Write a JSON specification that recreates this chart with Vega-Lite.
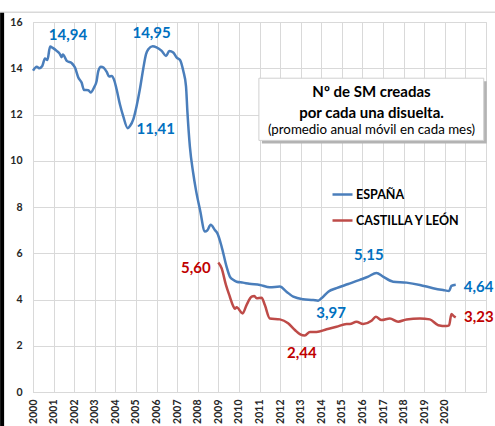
{
  "$schema": "https://vega.github.io/schema/vega-lite/v6.json",
  "width": 453,
  "height": 370,
  "autosize": {"type": "none"},
  "padding": {"left": 33, "top": 22, "right": 9, "bottom": 34},
  "background": "white",
  "config": {
    "font": "Lato",
    "view": {"stroke": "#d9d9d9", "strokeWidth": 1},
    "axis": {"gridColor": "#d9d9d9", "gridWidth": 1, "domainColor": "#d9d9d9", "ticks": false, "labelFontWeight": "bold", "labelColor": "#262626", "labelFontSize": 10.5, "title": null, "grid": true, "labelFlush": false, "labelOverlap": false},
    "axisX": {"tickCount": 22, "labelAngle": -90, "labelPadding": 7, "labelExpr": "datum.value <= 2020 ? format(datum.value, 'd') : ''"},
    "axisY": {"tickCount": 8, "labelPadding": 11}
  },
  "datasets": {
    "series": [
      {"series": "ESPAÑA", "t": 2000.0, "v": 13.9},
      {"series": "ESPAÑA", "t": 2000.18, "v": 14.07},
      {"series": "ESPAÑA", "t": 2000.3, "v": 14.0},
      {"series": "ESPAÑA", "t": 2000.45, "v": 14.1},
      {"series": "ESPAÑA", "t": 2000.58, "v": 14.42},
      {"series": "ESPAÑA", "t": 2000.7, "v": 14.36},
      {"series": "ESPAÑA", "t": 2000.83, "v": 14.94},
      {"series": "ESPAÑA", "t": 2000.96, "v": 14.88},
      {"series": "ESPAÑA", "t": 2001.15, "v": 14.75},
      {"series": "ESPAÑA", "t": 2001.3, "v": 14.62},
      {"series": "ESPAÑA", "t": 2001.39, "v": 14.48},
      {"series": "ESPAÑA", "t": 2001.45, "v": 14.6},
      {"series": "ESPAÑA", "t": 2001.64, "v": 14.32},
      {"series": "ESPAÑA", "t": 2001.88, "v": 14.22},
      {"series": "ESPAÑA", "t": 2002.04, "v": 14.03},
      {"series": "ESPAÑA", "t": 2002.2, "v": 13.6},
      {"series": "ESPAÑA", "t": 2002.36, "v": 13.38},
      {"series": "ESPAÑA", "t": 2002.48, "v": 13.06},
      {"series": "ESPAÑA", "t": 2002.69, "v": 13.05},
      {"series": "ESPAÑA", "t": 2002.8, "v": 12.95},
      {"series": "ESPAÑA", "t": 2002.96, "v": 13.16},
      {"series": "ESPAÑA", "t": 2003.09, "v": 13.45},
      {"series": "ESPAÑA", "t": 2003.17, "v": 13.88},
      {"series": "ESPAÑA", "t": 2003.3, "v": 14.07},
      {"series": "ESPAÑA", "t": 2003.42, "v": 14.03},
      {"series": "ESPAÑA", "t": 2003.58, "v": 13.84},
      {"series": "ESPAÑA", "t": 2003.7, "v": 13.64},
      {"series": "ESPAÑA", "t": 2003.82, "v": 13.67},
      {"series": "ESPAÑA", "t": 2003.93, "v": 13.52},
      {"series": "ESPAÑA", "t": 2004.06, "v": 13.09},
      {"series": "ESPAÑA", "t": 2004.22, "v": 12.44},
      {"series": "ESPAÑA", "t": 2004.38, "v": 11.93},
      {"series": "ESPAÑA", "t": 2004.6, "v": 11.41},
      {"series": "ESPAÑA", "t": 2004.71, "v": 11.5},
      {"series": "ESPAÑA", "t": 2004.87, "v": 11.79},
      {"series": "ESPAÑA", "t": 2005.03, "v": 12.36},
      {"series": "ESPAÑA", "t": 2005.19, "v": 13.09},
      {"series": "ESPAÑA", "t": 2005.35, "v": 13.96},
      {"series": "ESPAÑA", "t": 2005.49, "v": 14.61},
      {"series": "ESPAÑA", "t": 2005.6, "v": 14.82},
      {"series": "ESPAÑA", "t": 2005.81, "v": 14.95},
      {"series": "ESPAÑA", "t": 2006.0, "v": 14.9},
      {"series": "ESPAÑA", "t": 2006.25, "v": 14.75},
      {"series": "ESPAÑA", "t": 2006.46, "v": 14.53},
      {"series": "ESPAÑA", "t": 2006.62, "v": 14.75},
      {"series": "ESPAÑA", "t": 2006.81, "v": 14.68},
      {"series": "ESPAÑA", "t": 2006.98, "v": 14.46},
      {"series": "ESPAÑA", "t": 2007.14, "v": 14.36},
      {"series": "ESPAÑA", "t": 2007.3, "v": 13.88},
      {"series": "ESPAÑA", "t": 2007.43, "v": 13.23},
      {"series": "ESPAÑA", "t": 2007.5, "v": 12.1},
      {"series": "ESPAÑA", "t": 2007.62, "v": 10.6},
      {"series": "ESPAÑA", "t": 2007.78, "v": 9.47},
      {"series": "ESPAÑA", "t": 2007.91, "v": 8.75},
      {"series": "ESPAÑA", "t": 2008.11, "v": 7.88},
      {"series": "ESPAÑA", "t": 2008.35, "v": 6.94},
      {"series": "ESPAÑA", "t": 2008.46, "v": 6.98},
      {"series": "ESPAÑA", "t": 2008.63, "v": 7.23},
      {"series": "ESPAÑA", "t": 2008.83, "v": 7.01},
      {"series": "ESPAÑA", "t": 2008.95, "v": 6.87},
      {"series": "ESPAÑA", "t": 2009.16, "v": 6.29},
      {"series": "ESPAÑA", "t": 2009.4, "v": 5.42},
      {"series": "ESPAÑA", "t": 2009.56, "v": 4.99},
      {"series": "ESPAÑA", "t": 2009.72, "v": 4.85},
      {"series": "ESPAÑA", "t": 2009.89, "v": 4.77},
      {"series": "ESPAÑA", "t": 2010.2, "v": 4.73},
      {"series": "ESPAÑA", "t": 2010.5, "v": 4.68},
      {"series": "ESPAÑA", "t": 2011.02, "v": 4.63},
      {"series": "ESPAÑA", "t": 2011.5, "v": 4.53},
      {"series": "ESPAÑA", "t": 2011.99, "v": 4.56},
      {"series": "ESPAÑA", "t": 2012.31, "v": 4.34},
      {"series": "ESPAÑA", "t": 2012.64, "v": 4.12},
      {"series": "ESPAÑA", "t": 2013.12, "v": 4.01},
      {"series": "ESPAÑA", "t": 2013.61, "v": 3.98},
      {"series": "ESPAÑA", "t": 2013.85, "v": 3.95},
      {"series": "ESPAÑA", "t": 2014.01, "v": 4.05},
      {"series": "ESPAÑA", "t": 2014.34, "v": 4.34},
      {"series": "ESPAÑA", "t": 2014.74, "v": 4.49},
      {"series": "ESPAÑA", "t": 2015.31, "v": 4.67},
      {"series": "ESPAÑA", "t": 2015.87, "v": 4.85},
      {"series": "ESPAÑA", "t": 2016.28, "v": 4.99},
      {"series": "ESPAÑA", "t": 2016.68, "v": 5.15},
      {"series": "ESPAÑA", "t": 2017.0, "v": 4.99},
      {"series": "ESPAÑA", "t": 2017.49, "v": 4.77},
      {"series": "ESPAÑA", "t": 2018.14, "v": 4.73},
      {"series": "ESPAÑA", "t": 2018.79, "v": 4.63},
      {"series": "ESPAÑA", "t": 2019.43, "v": 4.49},
      {"series": "ESPAÑA", "t": 2019.92, "v": 4.41},
      {"series": "ESPAÑA", "t": 2020.21, "v": 4.37},
      {"series": "ESPAÑA", "t": 2020.32, "v": 4.59},
      {"series": "ESPAÑA", "t": 2020.53, "v": 4.64},
      {"series": "CASTILLA Y LEÓN", "t": 2009.0, "v": 5.6},
      {"series": "CASTILLA Y LEÓN", "t": 2009.16, "v": 5.35},
      {"series": "CASTILLA Y LEÓN", "t": 2009.37, "v": 4.63},
      {"series": "CASTILLA Y LEÓN", "t": 2009.56, "v": 4.12},
      {"series": "CASTILLA Y LEÓN", "t": 2009.72, "v": 3.72},
      {"series": "CASTILLA Y LEÓN", "t": 2009.8, "v": 3.6},
      {"series": "CASTILLA Y LEÓN", "t": 2009.89, "v": 3.66},
      {"series": "CASTILLA Y LEÓN", "t": 2010.18, "v": 3.4},
      {"series": "CASTILLA Y LEÓN", "t": 2010.37, "v": 3.76},
      {"series": "CASTILLA Y LEÓN", "t": 2010.62, "v": 4.12},
      {"series": "CASTILLA Y LEÓN", "t": 2010.75, "v": 4.15},
      {"series": "CASTILLA Y LEÓN", "t": 2010.86, "v": 4.05},
      {"series": "CASTILLA Y LEÓN", "t": 2011.1, "v": 4.08},
      {"series": "CASTILLA Y LEÓN", "t": 2011.26, "v": 3.76},
      {"series": "CASTILLA Y LEÓN", "t": 2011.5, "v": 3.18},
      {"series": "CASTILLA Y LEÓN", "t": 2011.99, "v": 3.14},
      {"series": "CASTILLA Y LEÓN", "t": 2012.39, "v": 2.97},
      {"series": "CASTILLA Y LEÓN", "t": 2012.72, "v": 2.68},
      {"series": "CASTILLA Y LEÓN", "t": 2012.96, "v": 2.5},
      {"series": "CASTILLA Y LEÓN", "t": 2013.2, "v": 2.44},
      {"series": "CASTILLA Y LEÓN", "t": 2013.45, "v": 2.6},
      {"series": "CASTILLA Y LEÓN", "t": 2013.77, "v": 2.6},
      {"series": "CASTILLA Y LEÓN", "t": 2014.26, "v": 2.71},
      {"series": "CASTILLA Y LEÓN", "t": 2014.74, "v": 2.82},
      {"series": "CASTILLA Y LEÓN", "t": 2015.23, "v": 2.94},
      {"series": "CASTILLA Y LEÓN", "t": 2015.39, "v": 2.94},
      {"series": "CASTILLA Y LEÓN", "t": 2015.71, "v": 3.04},
      {"series": "CASTILLA Y LEÓN", "t": 2016.03, "v": 2.94},
      {"series": "CASTILLA Y LEÓN", "t": 2016.44, "v": 3.08},
      {"series": "CASTILLA Y LEÓN", "t": 2016.65, "v": 3.25},
      {"series": "CASTILLA Y LEÓN", "t": 2016.93, "v": 3.11},
      {"series": "CASTILLA Y LEÓN", "t": 2017.33, "v": 3.18},
      {"series": "CASTILLA Y LEÓN", "t": 2017.73, "v": 3.04},
      {"series": "CASTILLA Y LEÓN", "t": 2018.14, "v": 3.14},
      {"series": "CASTILLA Y LEÓN", "t": 2018.79, "v": 3.18},
      {"series": "CASTILLA Y LEÓN", "t": 2019.27, "v": 3.14},
      {"series": "CASTILLA Y LEÓN", "t": 2019.68, "v": 2.89},
      {"series": "CASTILLA Y LEÓN", "t": 2020.08, "v": 2.85},
      {"series": "CASTILLA Y LEÓN", "t": 2020.21, "v": 2.89},
      {"series": "CASTILLA Y LEÓN", "t": 2020.32, "v": 3.37},
      {"series": "CASTILLA Y LEÓN", "t": 2020.44, "v": 3.28},
      {"series": "CASTILLA Y LEÓN", "t": 2020.53, "v": 3.23}
    ],
    "labels": [
      {"series": "ESPAÑA", "t": 2001.7, "v": 15.43, "text": "14,94"},
      {"series": "ESPAÑA", "t": 2005.76, "v": 15.52, "text": "14,95"},
      {"series": "ESPAÑA", "t": 2005.96, "v": 11.38, "text": "11,41"},
      {"series": "CASTILLA Y LEÓN", "t": 2007.91, "v": 5.35, "text": "5,60"},
      {"series": "ESPAÑA", "t": 2014.48, "v": 3.4, "text": "3,97"},
      {"series": "CASTILLA Y LEÓN", "t": 2013.06, "v": 1.67, "text": "2,44"},
      {"series": "ESPAÑA", "t": 2016.31, "v": 5.93, "text": "5,15"},
      {"series": "ESPAÑA", "t": 2021.64, "v": 4.55, "text": "4,64"},
      {"series": "CASTILLA Y LEÓN", "t": 2021.65, "v": 3.25, "text": "3,23"}
    ]
  },
  "layer": [
    {
      "data": {"name": "series"},
      "mark": {"type": "line", "strokeWidth": 2.5, "interpolate": "monotone"},
      "encoding": {
        "x": {"field": "t", "type": "quantitative", "scale": {"domain": [2000, 2022], "nice": false, "zero": false}},
        "y": {"field": "v", "type": "quantitative", "scale": {"domain": [0, 16], "nice": false}},
        "color": {
          "field": "series", "type": "nominal",
          "scale": {"domain": ["ESPAÑA", "CASTILLA Y LEÓN"], "range": ["#4A7EBB", "#BE4B48"]},
          "legend": {
            "orient": "none", "legendX": 298, "legendY": 161, "title": null,
            "symbolType": "stroke", "symbolSize": 400, "symbolStrokeWidth": 2.5,
            "labelFont": "Lato", "labelFontSize": 12.5, "labelFontWeight": "bold", "labelColor": "black",
            "labelOffset": 2, "rowPadding": 8
          }
        }
      }
    },
    {
      "data": {"values": [{}]},
      "mark": {"type": "rule", "color": "#d9d9d9", "strokeWidth": 1.5},
      "encoding": {
        "x": {"datum": 1998.4, "type": "quantitative"},
        "x2": {"datum": 2022.45},
        "y": {"datum": 16.42, "type": "quantitative"}
      }
    },
    {
      "data": {"values": [{}]},
      "mark": {"type": "rule", "color": "black", "strokeWidth": 4},
      "encoding": {
        "x": {"datum": 1998.5, "type": "quantitative"},
        "y": {"datum": 16.4, "type": "quantitative"},
        "y2": {"datum": -1.5}
      }
    },
    {
      "data": {"values": [{}]},
      "mark": {"type": "rect", "fill": "#b3b3b3", "xOffset": 3, "yOffset": 3, "x2Offset": 3, "y2Offset": 3},
      "encoding": {
        "x": {"datum": 2010.97, "type": "quantitative"},
        "x2": {"datum": 2021.89},
        "y": {"datum": 13.57, "type": "quantitative"},
        "y2": {"datum": 10.88}
      }
    },
    {
      "data": {"values": [{}]},
      "mark": {"type": "rect", "fill": "white", "stroke": "#d0d0d0", "strokeWidth": 1},
      "encoding": {
        "x": {"datum": 2010.97, "type": "quantitative"},
        "x2": {"datum": 2021.89},
        "y": {"datum": 13.57, "type": "quantitative"},
        "y2": {"datum": 10.88}
      }
    },
    {
      "data": {"name": "labels"},
      "mark": {"type": "text", "fontSize": 15, "fontWeight": "bold", "align": "center", "baseline": "middle"},
      "encoding": {
        "x": {"field": "t", "type": "quantitative"},
        "y": {"field": "v", "type": "quantitative"},
        "text": {"field": "text"},
        "color": {
          "field": "series", "type": "nominal",
          "scale": {"domain": ["ESPAÑA", "CASTILLA Y LEÓN"], "range": ["#0070C0", "#C00000"]},
          "legend": null
        }
      }
    },
    {
      "data": {"values": [{}]},
      "mark": {"type": "text", "fontSize": 15, "fontWeight": "bold", "color": "black", "align": "center", "baseline": "middle"},
      "encoding": {"x": {"datum": 2016.44, "type": "quantitative"}, "y": {"datum": 12.97, "type": "quantitative"}, "text": {"value": "Nº de SM creadas"}}
    },
    {
      "data": {"values": [{}]},
      "mark": {"type": "text", "fontSize": 15, "fontWeight": "bold", "color": "black", "align": "center", "baseline": "middle"},
      "encoding": {"x": {"datum": 2016.44, "type": "quantitative"}, "y": {"datum": 12.08, "type": "quantitative"}, "text": {"value": "por cada una disuelta."}}
    },
    {
      "data": {"values": [{}]},
      "mark": {"type": "text", "fontSize": 13.3, "color": "black", "align": "center", "baseline": "middle"},
      "encoding": {"x": {"datum": 2016.44, "type": "quantitative"}, "y": {"datum": 11.32, "type": "quantitative"}, "text": {"value": "(promedio anual móvil en cada mes)"}}
    }
  ],
  "resolve": {"scale": {"color": "independent"}}
}
